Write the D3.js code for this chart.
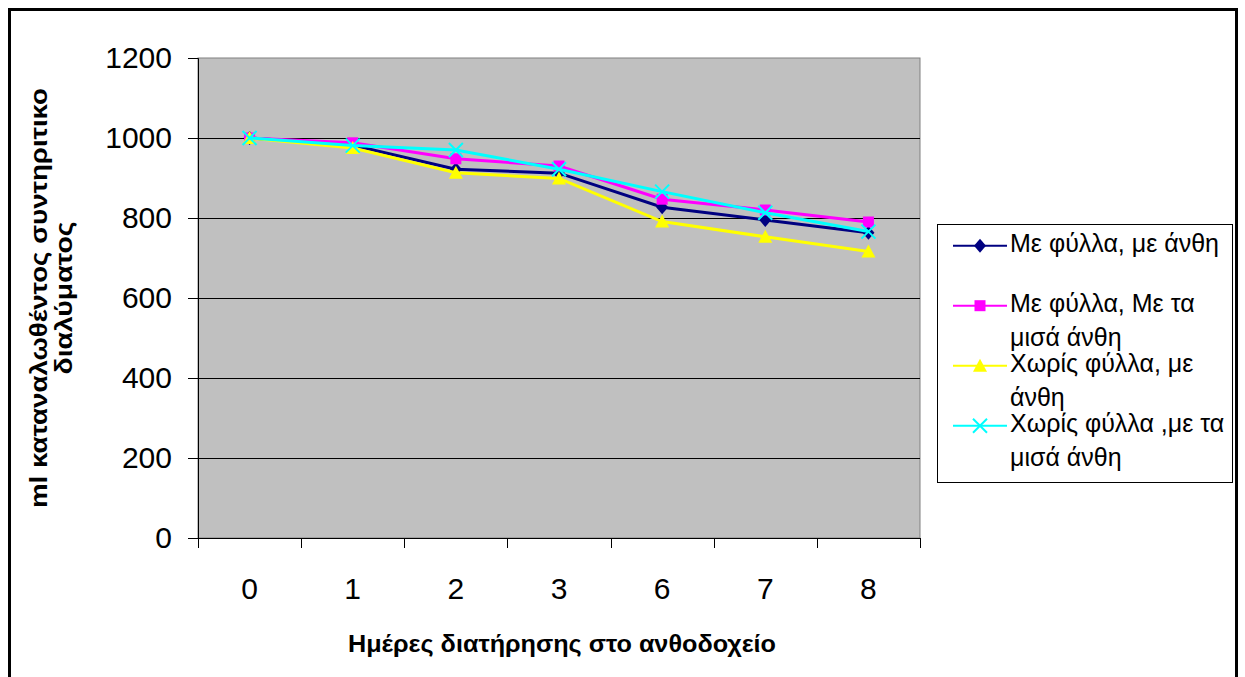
<!DOCTYPE html>
<html>
<head>
<meta charset="utf-8">
<script src="https://cdn.jsdelivr.net/npm/d3@7"></script>
<style>
  html, body { margin: 0; padding: 0; background: #fff; }
  svg { display: block; font-family: "Liberation Sans", Arial, sans-serif; }
</style>
</head>
<body>
<svg id="chart" width="1245" height="677"></svg>
<script>
// ---- data ----
const days = ["0", "1", "2", "3", "6", "7", "8"];
const yTicks = [0, 200, 400, 600, 800, 1000, 1200];
const seriesNames = [
  ["Με φύλλα, με άνθη"],
  ["Με φύλλα, Με τα", "μισά άνθη"],
  ["Χωρίς φύλλα, με", "άνθη"],
  ["Χωρίς φύλλα ,με τα", "μισά άνθη"]
];
const leavesFlowers       = [1000, 982, 922, 912, 827, 795, 763];
const leavesHalfFlowers   = [1000, 988, 948, 930, 847, 820, 790];
const noLeavesFlowers     = [1000, 975, 913, 899, 791, 753, 716];
const noLeavesHalfFlowers = [1000, 981, 970, 922, 866, 813, 766];
const seriesColors = ["#000080", "#FF00FF", "#FFFF00", "#00FFFF"];
const seriesMarkers = ["diamond", "square", "triangle", "cross"];
const xTitle = "Ημέρες διατήρησης στο ανθοδοχείο";
const yTitleLines = ["ml καταναλωθέντος συντηριτικο", "διαλύματος"];

const seriesValues = [leavesFlowers, leavesHalfFlowers, noLeavesFlowers, noLeavesHalfFlowers];

// ---- layout ----
const svg = d3.select("#chart");
const plot = { left: 198, right: 920, top: 58, bottom: 538 };

// outer frame
svg.append("rect")
  .attr("x", 9.5).attr("y", 9.5).attr("width", 1227).attr("height", 700)
  .attr("fill", "#fff").attr("stroke", "#000").attr("stroke-width", 3);

const x = d3.scaleBand().domain(days).range([plot.left, plot.right]).padding(0);
const y = d3.scaleLinear().domain([0, 1200]).range([plot.bottom, plot.top]);
const cx = d => x(d) + x.bandwidth() / 2;

// plot area
svg.append("rect")
  .attr("x", plot.left).attr("y", plot.top)
  .attr("width", plot.right - plot.left).attr("height", plot.bottom - plot.top)
  .attr("fill", "#C0C0C0").attr("stroke", "#808080").attr("stroke-width", 1);

// gridlines
svg.append("g").selectAll("line")
  .data(yTicks.filter(v => v > 0 && v < 1200))
  .join("line")
  .attr("x1", plot.left).attr("x2", plot.right)
  .attr("y1", d => Math.round(y(d)) + 0.5).attr("y2", d => Math.round(y(d)) + 0.5)
  .attr("stroke", "#000").attr("stroke-width", 1);

// y axis
const yAxis = d3.axisLeft(y).tickValues(yTicks).tickSize(10).tickPadding(16).tickFormat(d3.format("d"));
const gy = svg.append("g").attr("transform", `translate(${plot.left},0)`).call(yAxis);
gy.select(".domain").attr("stroke", "#000");
gy.selectAll(".tick line").attr("stroke", "#000");
gy.selectAll("text").attr("font-size", 30).attr("fill", "#000")
  .attr("font-family", "'Liberation Sans', Arial, sans-serif");

// x axis line + ticks at band boundaries
const gx = svg.append("g");
gx.append("line")
  .attr("x1", plot.left).attr("x2", plot.right)
  .attr("y1", plot.bottom + 0.5).attr("y2", plot.bottom + 0.5)
  .attr("stroke", "#000");
const boundaries = days.map(d => x(d)).concat([x.range()[1]]);
gx.selectAll("line.tk").data(boundaries).join("line").attr("class", "tk")
  .attr("x1", d => Math.round(d) + 0.5).attr("x2", d => Math.round(d) + 0.5)
  .attr("y1", plot.bottom).attr("y2", plot.bottom + 10)
  .attr("stroke", "#000");
gx.selectAll("text").data(days).join("text")
  .attr("x", d => cx(d)).attr("y", 599)
  .attr("text-anchor", "middle").attr("font-size", 30).attr("fill", "#000")
  .text(d => d);

// axis titles
svg.append("text")
  .attr("x", 562).attr("y", 652)
  .attr("text-anchor", "middle").attr("font-size", 23).attr("font-weight", "bold")
  .attr("textLength", 428).attr("lengthAdjust", "spacingAndGlyphs")
  .text(xTitle);

const yt = svg.append("g").attr("transform", "translate(0,298) rotate(-90)");
const yLens = [420, 153];
yTitleLines.forEach((t, i) => {
  yt.append("text")
    .attr("x", 0).attr("y", 47 + i * 25)
    .attr("text-anchor", "middle").attr("font-size", 23).attr("font-weight", "bold")
    .attr("textLength", yLens[i]).attr("lengthAdjust", "spacingAndGlyphs")
    .text(t);
});

// markers
function drawMarker(g, type, color, px, py) {
  if (type === "diamond") {
    g.append("path").attr("d", `M${px},${py - 7}L${px + 6},${py}L${px},${py + 7}L${px - 6},${py}Z`)
      .attr("fill", color);
  } else if (type === "square") {
    g.append("rect").attr("x", px - 5.5).attr("y", py - 5.5).attr("width", 11).attr("height", 11)
      .attr("fill", color);
  } else if (type === "triangle") {
    g.append("path").attr("d", `M${px},${py - 7}L${px + 7},${py + 6}L${px - 7},${py + 6}Z`)
      .attr("fill", color);
  } else if (type === "cross") {
    g.append("path").attr("d", `M${px - 7},${py - 7}L${px + 7},${py + 7}M${px - 7},${py + 7}L${px + 7},${py - 7}`)
      .attr("stroke", color).attr("stroke-width", 2).attr("fill", "none");
  }
}

// series
const line = d3.line().x((v, i) => cx(days[i])).y(v => y(v));
seriesValues.forEach((vals, s) => {
  const g = svg.append("g");
  g.append("path").datum(vals).attr("d", line)
    .attr("fill", "none").attr("stroke", seriesColors[s]).attr("stroke-width", 3);
  vals.forEach((v, i) => drawMarker(g, seriesMarkers[s], seriesColors[s], cx(days[i]), y(v)));
});

// legend
const lg = svg.append("g");
lg.append("rect").attr("x", 937.5).attr("y", 224.5).attr("width", 295).attr("height", 258)
  .attr("fill", "#fff").attr("stroke", "#000").attr("stroke-width", 1);
seriesNames.forEach((lines, s) => {
  const ey = 245.7 + s * 60;
  lg.append("line").attr("x1", 953).attr("x2", 1007).attr("y1", ey).attr("y2", ey)
    .attr("stroke", seriesColors[s]).attr("stroke-width", 2);
  drawMarker(lg, seriesMarkers[s], seriesColors[s], 980, ey);
  lines.forEach((t, k) => {
    lg.append("text").attr("x", 1010).attr("y", ey + 6 + k * 34)
      .attr("font-size", 25).attr("fill", "#000").text(t);
  });
});
</script>
</body>
</html>
